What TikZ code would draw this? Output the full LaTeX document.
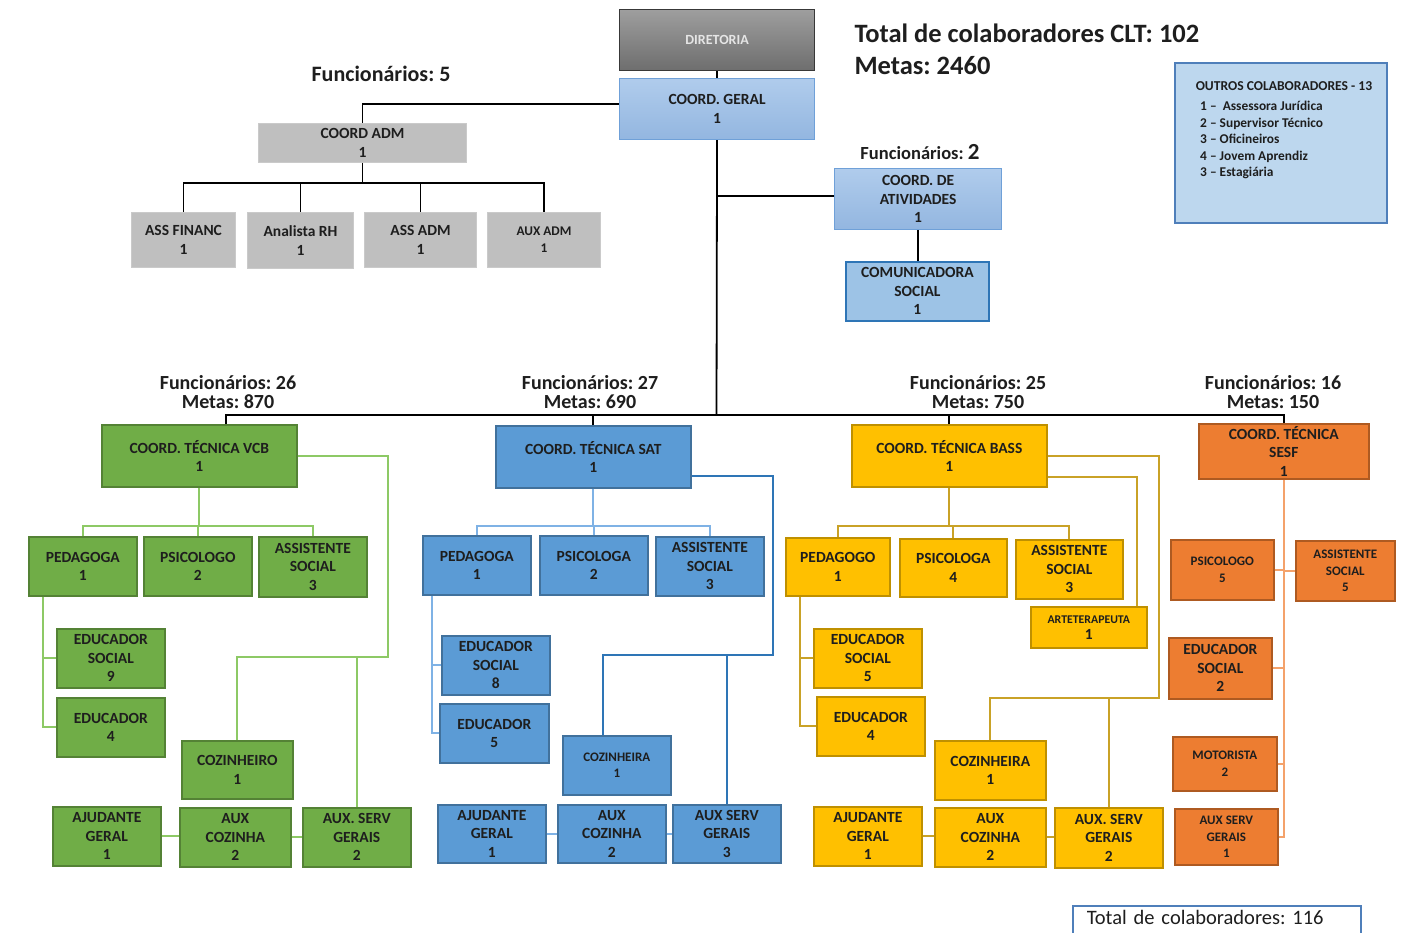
\documentclass[tikz,border=0pt]{standalone}
\usepackage{fontspec}
\setmainfont{Carlito}
\usetikzlibrary{positioning}
\frenchspacing

\definecolor{ink}{HTML}{1E1E1E}
\definecolor{admgray}{HTML}{BFBFBF}
\definecolor{admline}{HTML}{CACACA}
\definecolor{lbtop}{HTML}{B0CCEC}
\definecolor{lbbot}{HTML}{93B6E0}
\definecolor{lbline}{HTML}{6FA0D8}
\definecolor{comfill}{HTML}{9DC3E6}
\definecolor{comline}{HTML}{2E75B6}
\definecolor{outfill}{HTML}{BDD7EE}
\definecolor{outline}{HTML}{4F7FBA}
\definecolor{vcbfill}{HTML}{70AD47}
\definecolor{vcbline}{HTML}{548235}
\definecolor{vcbconn}{HTML}{8DC965}
\definecolor{satfill}{HTML}{5B9BD5}
\definecolor{satline}{HTML}{41719C}
\definecolor{satconn}{HTML}{7FB2E5}
\definecolor{satconn2}{HTML}{2E75B6}
\definecolor{bassfill}{HTML}{FFC000}
\definecolor{bassline}{HTML}{BF9000}
\definecolor{bassconn}{HTML}{C9A227}
\definecolor{sesffill}{HTML}{ED7D31}
\definecolor{sesfline}{HTML}{AE5A21}
\definecolor{sesfconn}{HTML}{F4A26B}

\begin{document}
\begin{tikzpicture}[x=1pt,y=-1pt,
  every node/.style={font=\bfseries\fontsize{15.5}{18.5}\selectfont, text=ink},
  box/.style={draw, anchor=north west, align=center, inner sep=1pt, line width=1.6pt},
  wh/.style 2 args={minimum width=#1pt, minimum height=#2pt},
  small/.style={font=\bfseries\fontsize{13}{16.5}\selectfont},
  lbl/.style={align=center, font=\bfseries\fontsize{20}{19}\selectfont},
  grbox/.style={box, fill=admgray, draw=admline, line width=1pt},
  lbbox/.style={box, top color=lbtop, bottom color=lbbot, draw=lbline, line width=1.2pt},
  vcbbox/.style={box, fill=vcbfill, draw=vcbline},
  satbox/.style={box, fill=satfill, draw=satline},
  bassbox/.style={box, fill=bassfill, draw=bassline},
  sesfbox/.style={box, fill=sesffill, draw=sesfline},
  blk/.style={line width=1.8pt, draw=black},
  gl/.style={line width=1.8pt, draw=vcbconn},
  sl/.style={line width=1.8pt, draw=satconn},
  sr/.style={line width=1.8pt, draw=satconn2},
  bl/.style={line width=1.8pt, draw=bassconn},
  ol/.style={line width=1.8pt, draw=sesfconn}]

\useasboundingbox[fill=white] (0,0) rectangle (1413,933);

% topo
\node[box, wh={195}{61}, top color=black!38, bottom color=black!57, draw=black!78, line width=1.2pt,
  text=black!10, font=\bfseries\fontsize{14}{17}\selectfont] (dir) at (619,9) {DIRETORIA};
\node[lbbox, wh={195}{61}] (geral) at (619,78) {COORD. GERAL\\1};
\node[anchor=west, font=\bfseries\fontsize{26.5}{30}\selectfont] (clt) at (851,33) {Total de colaboradores CLT: 102};
\node[anchor=west, font=\bfseries\fontsize{26.5}{30}\selectfont] (metas) at (851,66) {Metas: 2460};

% administrativo
\node[lbl, font=\bfseries\fontsize{22}{24}\selectfont] (fadm) at (381,74) {Funcionários: 5};
\node[grbox, wh={208}{39}] (adm) at (258,123) {COORD ADM\\1};
\node[grbox, wh={104}{55}] (fin) at (131,212) {ASS FINANC\\1};
\node[grbox, wh={106}{56}] (rh) at (247,212) {Analista RH\\1};
\node[grbox, wh={112}{55}] (assadm) at (364,212) {ASS ADM\\1};
\node[grbox, wh={113}{55}, font=\bfseries\fontsize{13.3}{17}\selectfont] (auxadm) at (487,212) {AUX ADM\\1};

% atividades
\node[lbl, font=\bfseries\fontsize{18.5}{20}\selectfont] (fativ) at (920,152) {Funcionários: {\fontsize{23}{20}\selectfont 2}};
\node[lbbox, wh={167}{61}] (ativ) at (834,168) {COORD. DE\\ATIVIDADES\\1};
\node[box, wh={143}{59}, fill=comfill, draw=comline, line width=1.8pt] (comun) at (845,261) {COMUNICADORA\\SOCIAL\\1};

% outros
\node[box, wh={212}{160}, fill=outfill, draw=outline, line width=1.8pt] (outros) at (1174,62) {};
\node[font=\bfseries\fontsize{13.6}{15}\selectfont] (outtit) at (1284,86) {OUTROS COLABORADORES - 13};
\node[anchor=north west, align=left, inner sep=0pt, font=\bfseries\fontsize{13.4}{16.5}\selectfont] (outlist) at (1200,101)
  {1 –\ \ Assessora Jurídica\\2 – Supervisor Técnico\\3 – Oficineiros\\4 – Jovem Aprendiz\\3 – Estagiária};

% rotulos dos grupos
\node[lbl] (fvcb) at (228,392) {Funcionários: 26\\Metas: 870};
\node[lbl] (fsat) at (590,392) {Funcionários: 27\\Metas: 690};
\node[lbl] (fbass) at (978,392) {Funcionários: 25\\Metas: 750};
\node[lbl] (fsesf) at (1273,392) {Funcionários: 16\\Metas: 150};

% VCB
\node[vcbbox, wh={195}{62}] (vcb) at (101,424) {COORD. TÉCNICA VCB\\1};
\node[vcbbox, wh={108}{59}] (vped) at (28,536) {PEDAGOGA\\1};
\node[vcbbox, wh={108}{59}] (vpsi) at (143,536) {PSICOLOGO\\2};
\node[vcbbox, wh={108}{60}] (vass) at (258,536) {ASSISTENTE\\SOCIAL\\3};
\node[vcbbox, wh={108}{59}] (veds) at (56,628) {EDUCADOR\\SOCIAL\\9};
\node[vcbbox, wh={108}{59}] (vedu) at (56,697) {EDUCADOR\\4};
\node[vcbbox, wh={111}{58}] (vcoz) at (181,740) {COZINHEIRO\\1};
\node[vcbbox, wh={108}{59}] (vaju) at (52,806) {AJUDANTE\\GERAL\\1};
\node[vcbbox, wh={111}{59}] (vauxc) at (179,807) {AUX\\COZINHA\\2};
\node[vcbbox, wh={108}{59}] (vsrv) at (302,807) {AUX. SERV\\GERAIS\\2};

% SAT
\node[satbox, wh={195}{62}] (sat) at (495,425) {COORD. TÉCNICA SAT\\1};
\node[satbox, wh={108}{59}] (sped) at (422,535) {PEDAGOGA\\1};
\node[satbox, wh={108}{59}] (spsi) at (539,535) {PSICOLOGA\\2};
\node[satbox, wh={108}{59}] (sass) at (655,536) {ASSISTENTE\\SOCIAL\\3};
\node[satbox, wh={108}{59}] (seds) at (441,635) {EDUCADOR\\SOCIAL\\8};
\node[satbox, wh={109}{59}] (sedu) at (439,703) {EDUCADOR\\5};
\node[satbox, wh={108}{59}, small] (scoz) at (562,735) {COZINHEIRA\\1};
\node[satbox, wh={108}{58}] (saju) at (437,804) {AJUDANTE\\GERAL\\1};
\node[satbox, wh={108}{58}] (sauxc) at (557,804) {AUX\\COZINHA\\2};
\node[satbox, wh={108}{58}] (ssrv) at (672,804) {AUX SERV\\GERAIS\\3};

% BASS
\node[bassbox, wh={195}{62}] (bass) at (851,424) {COORD. TÉCNICA BASS\\1};
\node[bassbox, wh={104}{58}] (bped) at (785,537) {PEDAGOGO\\1};
\node[bassbox, wh={107}{58}] (bpsi) at (899,538) {PSICOLOGA\\4};
\node[bassbox, wh={107}{59}] (bassis) at (1015,539) {ASSISTENTE\\SOCIAL\\3};
\node[bassbox, wh={116}{41}, font=\bfseries\fontsize{15.5}{16}\selectfont] (barte) at (1030,606) {{\fontsize{11.8}{13}\selectfont ARTETERAPEUTA}\\1};
\node[bassbox, wh={108}{59}] (beds) at (813,628) {EDUCADOR\\SOCIAL\\5};
\node[bassbox, wh={108}{59}] (bedu) at (816,696) {EDUCADOR\\4};
\node[bassbox, wh={111}{59}] (bcoz) at (934,740) {COZINHEIRA\\1};
\node[bassbox, wh={108}{59}] (baju) at (813,806) {AJUDANTE\\GERAL\\1};
\node[bassbox, wh={111}{59}] (bauxc) at (934,807) {AUX\\COZINHA\\2};
\node[bassbox, wh={108}{60}] (bsrv) at (1054,807) {AUX. SERV\\GERAIS\\2};

% SESF
\node[sesfbox, wh={170}{55}] (sesf) at (1198,423) {COORD. TÉCNICA\\SESF\\1};
\node[sesfbox, wh={103}{60}, small] (opsi) at (1170,539) {PSICOLOGO\\5};
\node[sesfbox, wh={99}{60}, small] (oass) at (1295,540) {ASSISTENTE\\SOCIAL\\5};
\node[sesfbox, wh={103}{61}] (oeds) at (1168,637) {EDUCADOR\\SOCIAL\\2};
\node[sesfbox, wh={104}{54}, small] (omot) at (1172,736) {MOTORISTA\\2};
\node[sesfbox, wh={103}{56}, small] (osrv) at (1174,808) {AUX SERV\\GERAIS\\1};

% total geral
\node[draw=outline, line width=1.5pt, anchor=north west, inner xsep=14pt, inner ysep=4pt,
  text width=260pt, text height=15pt, text depth=20pt, align=left,
  font=\mdseries\fontsize{20.5}{22}\selectfont] (total) at (1072,905) {Total de colaboradores: 116};

% ligacoes do topo
\coordinate (bus) at (716.5,415);
\draw[blk] (dir) -- (geral);
\draw[blk] (geral) -- (bus);
\draw[blk] ([xshift=26.5pt]vcb.north) |- (bus) -| (sesf.north);
\draw[blk] (sat.north) -- (sat.north |- bus);
\draw[blk] (bass.north) -- (bass.north |- bus);
\draw[blk] (adm.north) |- ([yshift=5pt]geral.west);
\draw[blk] (adm.south) -- ++(0,21);
\draw[blk] (fin.north) -- ++(0,-29) -| (auxadm.north);
\draw[blk] (rh.north) -- ++(0,-29);
\draw[blk] (assadm.north) -- ++(0,-29);
\draw[blk] ([yshift=3pt]ativ.west) -- ([yshift=3pt]ativ.west -| geral.south);
\draw[blk] (ativ.south) -- (ativ.south |- comun.north);

% ligacoes VCB
\draw[gl] (vcb.south) -- ++(0,38) coordinate (vbus);
\draw[gl] (vped.north) |- (vbus) -| (vass.north);
\draw[gl] (vpsi.north) -- (vpsi.north |- vbus);
\coordinate (vtr) at ([xshift=15pt]vped.south west);
\draw[gl] (vtr) |- (vedu.west);
\draw[gl] (veds.west) -- (veds.west -| vtr);
\coordinate (vkn) at (388,657);
\draw[gl] (vcb.east) -| (vkn) -| (vcoz.north);
\draw[gl] (vsrv.north) -- (vsrv.north |- vkn);
\draw[gl] (vaju.east) -- (vaju.east -| vauxc.west);
\draw[gl] (vauxc.east) -- (vauxc.east -| vsrv.west);

% ligacoes SAT
\draw[sl] (sat.south) -- ++(0,37) coordinate (sbus);
\draw[sl] (sped.north) |- (sbus) -| (sass.north);
\draw[sl] (spsi.north) -- (spsi.north |- sbus);
\coordinate (str) at ([xshift=10pt]sped.south west);
\draw[sl] (str) |- (sedu.west);
\draw[sl] (seds.west) -- (seds.west -| str);
\coordinate (skn) at (773,655);
\draw[sr] ([yshift=-19pt]sat.east) -| (skn) -| ([xshift=41pt]scoz.north west);
\draw[sr] (ssrv.north) -- (ssrv.north |- skn);
\draw[sl] (saju.east) -- (saju.east -| sauxc.west);
\draw[sl] (sauxc.east) -- (sauxc.east -| ssrv.west);

% ligacoes BASS
\draw[bl] (bass.south) -- ++(0,38) coordinate (bbus);
\draw[bl] (bped.north) |- (bbus) -| (bassis.north);
\draw[bl] (bpsi.north) -- (bpsi.north |- bbus);
\coordinate (btr) at ([xshift=15pt]bped.south west);
\draw[bl] (btr) |- (bedu.west);
\draw[bl] (beds.west) -- (beds.west -| btr);
\coordinate (bkn) at (1159,698);
\draw[bl] (bass.east) -| (bkn) -| (bcoz.north);
\draw[bl] (bsrv.north) -- (bsrv.north |- bkn);
\draw[bl] ([yshift=-21pt]bass.east) -| ([xshift=-11pt]barte.north east);
\draw[bl] (baju.east) -- (baju.east -| bauxc.west);
\draw[bl] (bauxc.east) -- (bauxc.east -| bsrv.west);

% ligacoes SESF
\draw[ol] (sesf.south) |- (osrv.east);
\draw[ol] (opsi.east) -- (opsi.east -| sesf.south);
\draw[ol] (oass.west) -- (oass.west -| sesf.south);
\draw[ol] (oeds.east) -- (oeds.east -| sesf.south);
\draw[ol] (omot.east) -- (omot.east -| sesf.south);
\end{tikzpicture}
\end{document}
